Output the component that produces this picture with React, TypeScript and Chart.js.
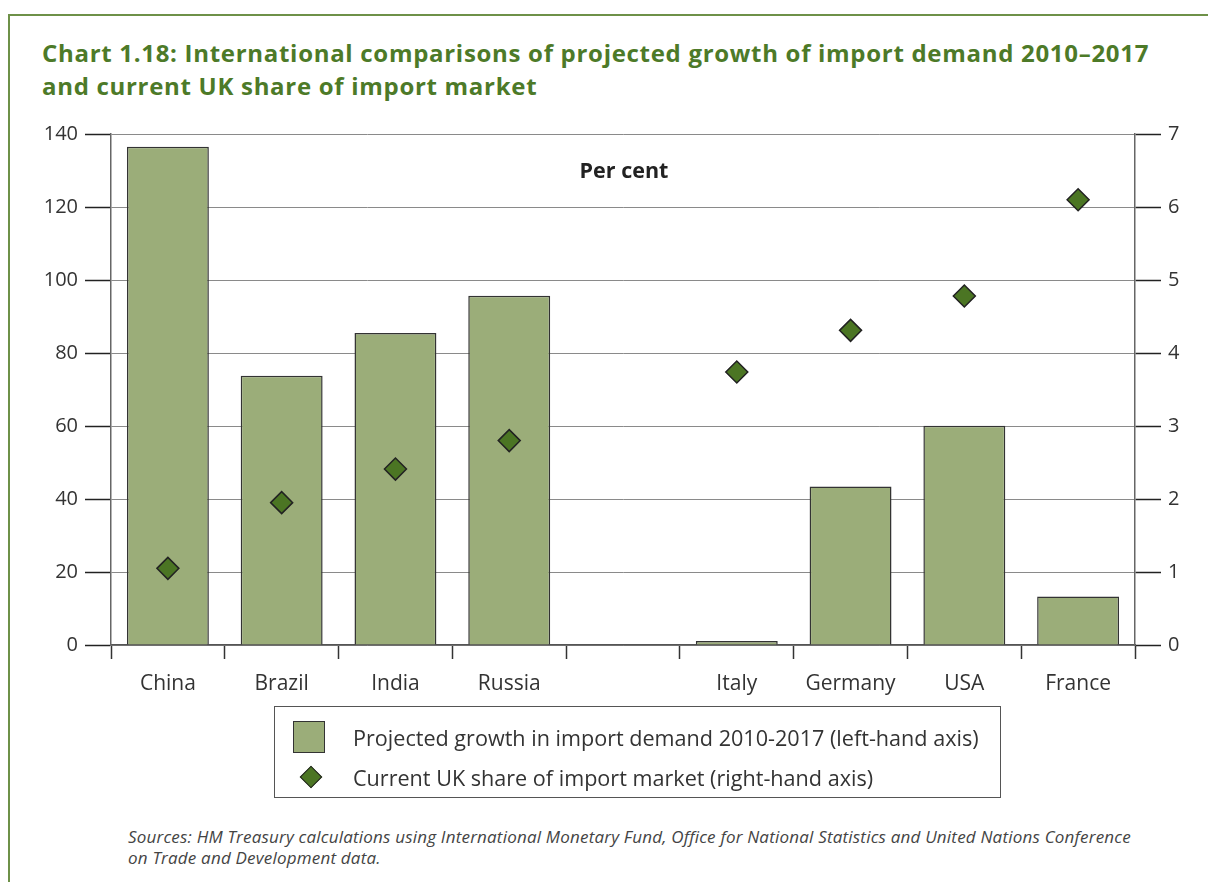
import React, { useEffect, useRef } from "react";
import { Chart, registerables } from "chart.js";

Chart.register(...registerables);

const categories = ["China", "Brazil", "India", "Russia", "", "Italy", "Germany", "USA", "France"];
const importGrowth = [136.5, 73.8, 85.5, 95.7, null, 1.1, 43.4, 60.1, 13.3];
const ukShare = [1.05, 1.95, 2.41, 2.8, null, 3.74, 4.31, 4.78, 6.1];
const leftTicks = [0, 20, 40, 60, 80, 100, 120, 140];
const rightTicks = [0, 1, 2, 3, 4, 5, 6, 7];

const FONT = "'Open Sans', 'Noto Sans', sans-serif";
const BAR = "#9bad79";
const DIAMOND = "#4b7523";
const TEXT = "#333333";
const GREEN_TITLE = "#4d7a28";

export default function App() {
  const ref = useRef<HTMLCanvasElement | null>(null);

  useEffect(() => {
    document.documentElement.style.overflow = "hidden";
    document.body.style.overflow = "hidden";
    const canvas = ref.current;
    if (!canvas) return;
    const chart = new Chart(canvas, {
      data: {
        labels: categories,
        datasets: [
          {
            type: "scatter" as any,
            label: "Current UK share of import market (right-hand axis)",
            data: ukShare as any,
            yAxisID: "yRight",
            xAxisID: "x",
            backgroundColor: DIAMOND,
            borderColor: "#222",
            borderWidth: 1.5,
            pointStyle: "rectRot",
            pointRadius: 11,
            showLine: false,
            order: 0,
          } as any,
          {
            type: "bar",
            label: "Projected growth in import demand 2010-2017 (left-hand axis)",
            data: importGrowth as any,
            yAxisID: "yLeft",
            backgroundColor: BAR,
            borderColor: "#333",
            borderWidth: 1.5,
            categoryPercentage: 1,
            barPercentage: 0.72,
            order: 1,
          },
        ],
      },
      options: {
        responsive: false,
        animation: false,
        layout: { padding: { top: 24, left: 0, right: 0, bottom: 0 } },
        plugins: {
          legend: { display: false },
          tooltip: { enabled: false },
          title: { display: false },
        },
        scales: {
          x: {
            type: "category",
            offset: true,
            grid: {
              offset: true,
              drawOnChartArea: false,
              tickLength: 14,
              tickColor: "#333",
              tickWidth: 1.5,
            },
            border: { color: "#555", width: 1.5 },
            ticks: {
              font: { family: FONT, size: 21 },
              color: TEXT,
              padding: 12,
              maxRotation: 0,
              autoSkip: false,
            },
            afterFit: (s: any) => {
              s.height = 65;
            },
          },
          yLeft: {
            type: "linear",
            position: "left",
            min: 0,
            max: 140,
            afterBuildTicks: (s: any) => {
              s.ticks = leftTicks.map((v) => ({ value: v }));
            },
            grid: {
              color: "#8a8a8a",
              lineWidth: 1,
              tickLength: 26,
              tickColor: "#222",
              tickWidth: 1.5,
            },
            border: { color: "#666", width: 1.5 },
            ticks: {
              font: { family: FONT, size: 20 },
              color: TEXT,
              padding: 7,
            },
            afterFit: (s: any) => {
              s.width = 81;
            },
          },
          yRight: {
            type: "linear",
            position: "right",
            min: 0,
            max: 7,
            afterBuildTicks: (s: any) => {
              s.ticks = rightTicks.map((v) => ({ value: v }));
            },
            grid: {
              drawOnChartArea: false,
              tickLength: 26,
              tickColor: "#222",
              tickWidth: 1.5,
            },
            border: { color: "#666", width: 1.5 },
            ticks: {
              font: { family: FONT, size: 20 },
              color: TEXT,
              padding: 7,
            },
            afterFit: (s: any) => {
              s.width = 73;
            },
          },
        },
      } as any,
    });
    return () => chart.destroy();
  }, []);

  return (
    <div style={{ position: "absolute", left: 0, top: 0, width: 1208, height: 882, overflow: "hidden", fontFamily: FONT, background: "#fff" }}>
      <div
        style={{
          position: "absolute",
          left: 8,
          top: 14,
          width: 1200,
          height: 880,
          borderLeft: `2px solid #6e9148`,
          borderTop: `2px solid #6e9148`,
        }}
      />
      <div
        style={{
          position: "absolute",
          left: 42,
          top: 36,
          fontSize: 24,
          letterSpacing: "0.7px",
          lineHeight: "33px",
          fontWeight: 700,
          color: GREEN_TITLE,
          whiteSpace: "nowrap",
        }}
      >
        Chart 1.18: International comparisons of projected growth of import demand 2010–2017
        <br />
        and current UK share of import market
      </div>
      <canvas ref={ref} width={1178} height={600} style={{ position: "absolute", left: 30, top: 110, width: 1178, height: 600 }} />
      <div
        style={{
          position: "absolute",
          left: 524,
          width: 200,
          top: 156,
          textAlign: "center",
          fontSize: 21.5,
          fontWeight: 700,
          color: "#222",
          lineHeight: "28px",
        }}
      >
        Per cent
      </div>
      <div
        style={{
          position: "absolute",
          left: 274,
          top: 706,
          width: 727,
          height: 92,
          border: "1px solid #555",
          boxSizing: "border-box",
          paddingTop: 10,
        }}
      >
        <div style={{ position: "relative", height: 40, display: "flex", alignItems: "center" }}>
          <div style={{ position: "absolute", left: 18, top: 4, width: 32, height: 32, background: BAR, border: "1.5px solid #333", boxSizing: "border-box" }} />
          <span style={{ position: "absolute", left: 78, fontSize: 21.6, color: TEXT, whiteSpace: "nowrap" }}>
            Projected growth in import demand 2010-2017 (left-hand axis)
          </span>
        </div>
        <div style={{ position: "relative", height: 40, display: "flex", alignItems: "center" }}>
          <div
            style={{
              position: "absolute",
              left: 28,
              top: 12,
              width: 16,
              height: 16,
              background: DIAMOND,
              border: "1.5px solid #222",
              boxSizing: "border-box",
              transform: "rotate(45deg)",
            }}
          />
          <span style={{ position: "absolute", left: 78, fontSize: 21.6, color: TEXT, whiteSpace: "nowrap" }}>
            Current UK share of import market (right-hand axis)
          </span>
        </div>
      </div>
      <div
        style={{
          position: "absolute",
          left: 128,
          top: 826,
          fontSize: 17,
          letterSpacing: "0.2px",
          lineHeight: "21px",
          fontStyle: "italic",
          color: "#444",
          width: 1075,
          whiteSpace: "nowrap",
        }}
      >
        Sources: HM Treasury calculations using International Monetary Fund, Office for National Statistics and United Nations Conference
        <br />
        on Trade and Development data.
      </div>
    </div>
  );
}
